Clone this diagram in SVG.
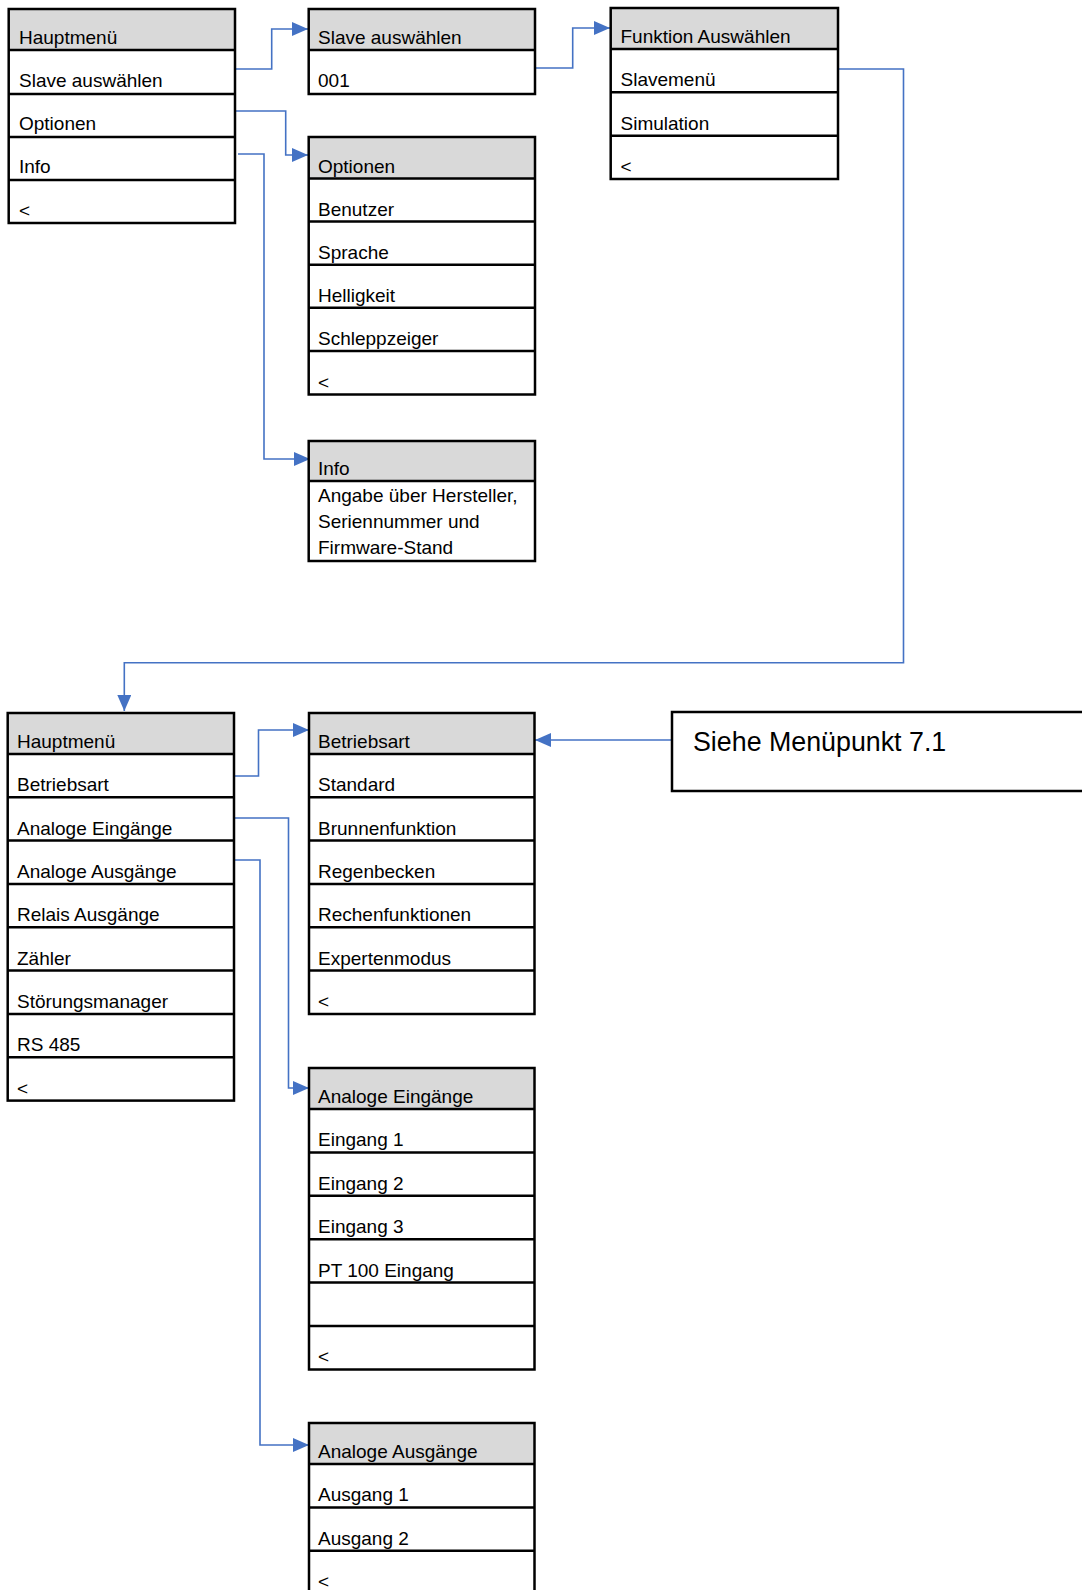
<svg xmlns="http://www.w3.org/2000/svg" width="1082" height="1590" viewBox="0 0 1082 1590">
<style>
.hdr{fill:#D9D9D9;stroke:none}
.box{fill:none;stroke:#000;stroke-width:2.5}
.dv{stroke:#000;stroke-width:2.5}
.t{font-family:"Liberation Sans",Arial,sans-serif;font-size:19px;fill:#000}
.big{font-family:"Liberation Sans",Arial,sans-serif;font-size:26.8px;fill:#000}
.c{fill:none;stroke:#4472C4;stroke-width:1.6}
</style>
<defs>
<marker id="ah" markerUnits="userSpaceOnUse" markerWidth="16" markerHeight="14" refX="16" refY="7" orient="auto">
<path d="M0,0 L16,7 L0,14 z" fill="#4472C4"/>
</marker>
</defs>
<rect x="0" y="0" width="1082" height="1590" fill="#fff"/>

<g id="connectors">
<path class="c" d="M235,69 H271.7 V29 H308" marker-end="url(#ah)"/>
<path class="c" d="M235,111 H285.7 V155 H308" marker-end="url(#ah)"/>
<path class="c" d="M238,154 H264 V459 H310" marker-end="url(#ah)"/>
<path class="c" d="M535,68 H572.7 V28 H610" marker-end="url(#ah)"/>
<path class="c" d="M837,69 H903.5 V662.7 H124.3 V711" marker-end="url(#ah)"/>
<path class="c" d="M234,776 H258.5 V730 H309" marker-end="url(#ah)"/>
<path class="c" d="M234,818 H288.5 V1088 H309" marker-end="url(#ah)"/>
<path class="c" d="M234,860 H260 V1445 H309" marker-end="url(#ah)"/>
<path class="c" d="M672,740 H535" marker-end="url(#ah)"/>
</g>

<g id="hauptmenue1">
<rect class="hdr" x="8.7" y="9" width="226.3" height="41"/>
<rect class="box" x="8.7" y="9" width="226.3" height="214"/>
<path class="dv" d="M8.7,50 H235 M8.7,94 H235 M8.7,137 H235 M8.7,180 H235"/>
<text class="t" x="19" y="44">Hauptmenü</text>
<text class="t" x="19" y="87">Slave auswählen</text>
<text class="t" x="19" y="130">Optionen</text>
<text class="t" x="19" y="173">Info</text>
<text class="t" x="19" y="217">&lt;</text>
</g>

<g id="slave">
<rect class="hdr" x="308.7" y="9" width="226.3" height="41"/>
<rect class="box" x="308.7" y="9" width="226.3" height="85"/>
<path class="dv" d="M308.7,50 H535"/>
<text class="t" x="318" y="44">Slave auswählen</text>
<text class="t" x="318" y="87">001</text>
</g>

<g id="funktion">
<rect class="hdr" x="610.7" y="8" width="227.3" height="41"/>
<rect class="box" x="610.7" y="8" width="227.3" height="171"/>
<path class="dv" d="M610.7,49 H838 M610.7,92.3 H838 M610.7,135.8 H838"/>
<text class="t" x="620.5" y="43">Funktion Auswählen</text>
<text class="t" x="620.5" y="86">Slavemenü</text>
<text class="t" x="620.5" y="129.5">Simulation</text>
<text class="t" x="620.5" y="173">&lt;</text>
</g>

<g id="optionen">
<rect class="hdr" x="308.7" y="137" width="226.3" height="41.5"/>
<rect class="box" x="308.7" y="137" width="226.3" height="257.5"/>
<path class="dv" d="M308.7,178.5 H535 M308.7,221.5 H535 M308.7,264.7 H535 M308.7,307.8 H535 M308.7,351 H535"/>
<text class="t" x="318" y="172.5">Optionen</text>
<text class="t" x="318" y="215.5">Benutzer</text>
<text class="t" x="318" y="258.7">Sprache</text>
<text class="t" x="318" y="301.8">Helligkeit</text>
<text class="t" x="318" y="345">Schleppzeiger</text>
<text class="t" x="318" y="388.5">&lt;</text>
</g>

<g id="info">
<rect class="hdr" x="308.7" y="441" width="226.3" height="40"/>
<rect class="box" x="308.7" y="441" width="226.3" height="120"/>
<path class="dv" d="M308.7,481 H535"/>
<text class="t" x="318" y="475">Info</text>
<text class="t" x="318" y="502">Angabe über Hersteller,</text>
<text class="t" x="318" y="528">Seriennummer und</text>
<text class="t" x="318" y="553.5">Firmware-Stand</text>
</g>

<g id="hauptmenue2">
<rect class="hdr" x="7.7" y="713" width="226.3" height="41"/>
<rect class="box" x="7.7" y="713" width="226.3" height="387.6"/>
<path class="dv" d="M7.7,754 H234 M7.7,797.3 H234 M7.7,840.6 H234 M7.7,884 H234 M7.7,927.3 H234 M7.7,970.6 H234 M7.7,1014 H234 M7.7,1057.3 H234"/>
<text class="t" x="17" y="748">Hauptmenü</text>
<text class="t" x="17" y="791.3">Betriebsart</text>
<text class="t" x="17" y="834.6">Analoge Eingänge</text>
<text class="t" x="17" y="878">Analoge Ausgänge</text>
<text class="t" x="17" y="921.3">Relais Ausgänge</text>
<text class="t" x="17" y="964.6">Zähler</text>
<text class="t" x="17" y="1008">Störungsmanager</text>
<text class="t" x="17" y="1051.3">RS 485</text>
<text class="t" x="17" y="1094.6">&lt;</text>
</g>

<g id="betriebsart">
<rect class="hdr" x="309" y="713" width="225.5" height="41"/>
<rect class="box" x="309" y="713" width="225.5" height="301"/>
<path class="dv" d="M309,754 H534.5 M309,797.3 H534.5 M309,840.6 H534.5 M309,884 H534.5 M309,927.3 H534.5 M309,970.6 H534.5"/>
<text class="t" x="318" y="748">Betriebsart</text>
<text class="t" x="318" y="791.3">Standard</text>
<text class="t" x="318" y="834.6">Brunnenfunktion</text>
<text class="t" x="318" y="878">Regenbecken</text>
<text class="t" x="318" y="921.3">Rechenfunktionen</text>
<text class="t" x="318" y="964.6">Expertenmodus</text>
<text class="t" x="318" y="1008">&lt;</text>
</g>

<g id="siehe">
<rect class="box" x="672" y="712" width="430" height="79"/>
<text class="big" x="693" y="751">Siehe Menüpunkt 7.1</text>
</g>

<g id="analoge-eingaenge">
<rect class="hdr" x="309" y="1068" width="225.5" height="41"/>
<rect class="box" x="309" y="1068" width="225.5" height="301.5"/>
<path class="dv" d="M309,1109 H534.5 M309,1152.4 H534.5 M309,1195.8 H534.5 M309,1239.2 H534.5 M309,1282.6 H534.5 M309,1326 H534.5"/>
<text class="t" x="318" y="1103">Analoge Eingänge</text>
<text class="t" x="318" y="1146.4">Eingang 1</text>
<text class="t" x="318" y="1189.8">Eingang 2</text>
<text class="t" x="318" y="1233.2">Eingang 3</text>
<text class="t" x="318" y="1276.6">PT 100 Eingang</text>
<text class="t" x="318" y="1363.4">&lt;</text>
</g>

<g id="analoge-ausgaenge">
<rect class="hdr" x="309" y="1423" width="225.5" height="41"/>
<rect class="box" x="309" y="1423" width="225.5" height="180"/>
<path class="dv" d="M309,1464 H534.5 M309,1507.4 H534.5 M309,1550.8 H534.5"/>
<text class="t" x="318" y="1458">Analoge Ausgänge</text>
<text class="t" x="318" y="1501.4">Ausgang 1</text>
<text class="t" x="318" y="1544.8">Ausgang 2</text>
<text class="t" x="318" y="1588">&lt;</text>
</g>
</svg>
